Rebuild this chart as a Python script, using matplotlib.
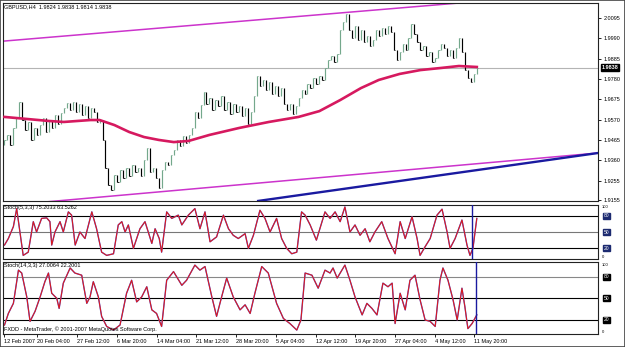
import matplotlib.pyplot as plt
import matplotlib.transforms as mtransforms
from matplotlib.patches import Rectangle

plt.rcParams['font.family'] = ['Liberation Sans', 'DejaVu Sans']

# ---- texts
symbol_line = 'GBPUSD,H4  1.9824 1.9838 1.9814 1.9838'
stoch_fast_label = 'Stoch(5,3,3) 75.2033 63.5262'
stoch_slow_label = 'Stoch(14,3,3) 27.0064 22.2001'
copyright_text = 'FXDD - MetaTrader, \u00a9 2001-2007 MetaQuotes Software Corp.'
bid = 1.9838
bid_text = '1.9838'

# ---- H4 closes (one value per drawn bar)
first_open = 1.9440
closes = [
    1.9465, 1.9490, 1.9439, 1.9527, 1.9578, 1.9661, 1.9568, 1.9516, 1.9558, 1.9465,
    1.9527, 1.9490, 1.9542, 1.9578, 1.9506, 1.9568, 1.9527, 1.9594, 1.9547, 1.9604,
    1.9630, 1.9656, 1.9620, 1.9661, 1.9609, 1.9651, 1.9594, 1.9640, 1.9578, 1.9630,
    1.9609, 1.9558, 1.9568, 1.9465, 1.9320, 1.9232, 1.9207, 1.9284, 1.9248, 1.9310,
    1.9269, 1.9320, 1.9279, 1.9336, 1.9300, 1.9320, 1.9279, 1.9362, 1.9424, 1.9300,
    1.9320, 1.9269, 1.9217, 1.9310, 1.9351, 1.9336, 1.9388, 1.9413, 1.9465, 1.9434,
    1.9485, 1.9449, 1.9490, 1.9527, 1.9609, 1.9578, 1.9646, 1.9713, 1.9651, 1.9682,
    1.9620, 1.9671, 1.9640, 1.9692, 1.9620, 1.9661, 1.9599, 1.9651, 1.9609, 1.9640,
    1.9589, 1.9630, 1.9547, 1.9609, 1.9692, 1.9795, 1.9744, 1.9775, 1.9723, 1.9764,
    1.9702, 1.9744, 1.9692, 1.9733, 1.9651, 1.9620, 1.9651, 1.9599, 1.9640, 1.9682,
    1.9723, 1.9702, 1.9754, 1.9733, 1.9785, 1.9754, 1.9795, 1.9775, 1.9837, 1.9878,
    1.9899, 1.9868, 1.9909, 2.0033, 2.0074, 2.0116, 2.0033, 1.9992, 2.0054, 1.9981,
    2.0033, 1.9971, 2.0002, 1.9950, 1.9981, 2.0033, 2.0002, 2.0043, 2.0012, 2.0054,
    2.0023, 1.9930, 1.9878, 1.9919, 1.9961, 1.9930, 1.9992, 2.0064, 2.0012, 1.9971,
    1.9930, 1.9950, 1.9899, 1.9919, 1.9868, 1.9888, 1.9930, 1.9961, 1.9940, 1.9899,
    1.9930, 1.9888, 1.9940, 1.9992, 1.9919, 1.9826, 1.9785, 1.9764, 1.9806, 1.9838,
]

# moving average (read at a few bars)
ma_idx = [0, 15, 20, 29, 32, 37, 42, 47, 52, 57, 62, 69, 79, 89, 99, 106,
          113, 120, 126, 133, 140, 147, 153, 159]
ma_val = [1.9584, 1.9563, 1.9558, 1.9568, 1.9568, 1.9542, 1.9506, 1.9480,
          1.9465, 1.9454, 1.9460, 1.9491, 1.9527, 1.9558, 1.9584, 1.9614,
          1.9671, 1.9733, 1.9775, 1.9806, 1.9826, 1.9837, 1.9847, 1.9842]

# trend lines: (bar, price) end points
upper_chan_x = [0, 155]
upper_chan_y = [1.9976, 2.0175]
lower_chan_x = [0, 200]
lower_chan_y = [1.9126, 1.9398]
blue_trend_x = [85.4, 200]
blue_trend_y = [1.9150, 1.9398]

price_ticks = [2.0095, 1.9990, 1.9885, 1.9780, 1.9675, 1.9570, 1.9465,
               1.9360, 1.9255, 1.9155]

date_pos = [0, 11.1, 24.5, 37.9, 51.2, 64.6, 78.0, 91.3, 104.7, 118.1,
            131.4, 144.8, 158.2]
date_labels = ['12 Feb 2007', '20 Feb 04:00', '27 Feb 12:00', '6 Mar 20:00',
               '14 Mar 04:00', '21 Mar 12:00', '28 Mar 20:00', '5 Apr 04:00',
               '12 Apr 12:00', '19 Apr 20:00', '27 Apr 04:00', '4 May 12:00',
               '11 May 20:00']

# Stoch(5,3,3)
st1_idx = [0, 1.3, 3.0, 4.1, 6.3, 8.0, 9.7, 10.8, 12.5, 14.2, 15.3, 15.9,
           17.0, 18.7, 19.8, 21.5, 22.6, 23.8, 25.4, 27.1, 29.4, 31.0, 32.7,
           34.4, 36.7, 38.3, 39.5, 40.6, 41.7, 43.4, 45.6, 47.3, 48.4, 49.6,
           50.7, 52.1, 52.9, 54.6, 56.3, 58.5, 59.7, 61.9, 64.1, 65.8, 67.5,
           69.2, 71.4, 73.7, 75.4, 77.0, 78.7, 81.0, 82.1, 83.8, 86.0, 87.7,
           89.4, 91.6, 93.3, 95.0, 96.7, 98.4, 100.0, 101.2, 102.9, 105.0,
           107.9, 109.6, 111.3, 113.0, 114.6, 116.3, 118.0, 119.7, 121.4,
           123.0, 124.7, 127.0, 129.1, 131.5, 133.2, 134.9, 137.2, 138.9,
           139.9, 141.6, 143.3, 145.6, 147.3, 149.0, 150.0, 151.7, 154.0,
           155.7, 156.7, 157.7, 159.0]
st1_val = [26, 38, 60, 93, 7, 13, 69, 50, 75, 76, 69, 26,
           50, 69, 50, 87, 81, 26, 50, 38, 87, 56, 13,
           7, 10, 63, 69, 50, 63, 20, 56, 69, 50, 29,
           56, 38, 13, 87, 75, 81, 63, 81, 93, 56, 87,
           32, 41, 81, 56, 44, 38, 47, 20, 44, 90, 75,
           50, 75, 38, 20, 10, 13, 87, 81, 63, 35,
           87, 75, 87, 69, 96, 50, 63, 44, 56,
           32, 50, 69, 38, 10, 69, 38, 78, 38,
           7, 23, 38, 81, 92, 50, 20, 38, 72,
           26, 7, 20, 75]

# Stoch(14,3,3)
st2_idx = [0, 1.3, 3.0, 4.7, 5.8, 7.5, 8.6, 10.3, 12.0, 13.6, 14.8, 15.9,
           17.6, 18.4, 19.8, 22.1, 23.7, 26.0, 27.7, 28.8, 29.9, 31.6, 32.7,
           34.4, 36.7, 38.9, 41.1, 42.8, 44.5, 46.2, 47.9, 49.6, 51.2, 52.9,
           54.6, 56.9, 59.7, 61.3, 64.1, 65.8, 67.5, 69.8, 71.4, 73.1, 74.8,
           77.0, 79.3, 81.0, 82.7, 84.3, 86.6, 88.8, 91.6, 93.9, 96.1, 98.4,
           99.8, 101.2, 103.5, 105.6, 107.9, 109.6, 110.6, 112.0, 114.6,
           116.3, 118.0, 120.4, 122.0, 123.7, 125.4, 127.4, 129.1, 130.5,
           131.5, 133.2, 134.9, 136.5, 138.2, 139.9, 141.6, 143.3, 145.0,
           146.6, 147.6, 149.3, 151.0, 152.4, 154.0, 155.0, 156.0, 157.4,
           159.0]
st2_val = [13, 29, 43, 89, 85, 52, 18, 32, 52, 73, 85, 57,
           50, 36, 71, 92, 85, 82, 43, 52, 73, 52, 25,
           11, 6, 13, 57, 75, 45, 52, 66, 34, 29, 11,
           75, 87, 68, 75, 96, 89, 94, 52, 25, 52, 78,
           52, 34, 41, 29, 57, 94, 85, 43, 22, 15, 6,
           20, 85, 82, 64, 89, 85, 92, 78, 96,
           75, 52, 27, 43, 36, 27, 71, 66, 71,
           15, 57, 34, 75, 82, 48, 20, 18, 11,
           75, 92, 75, 48, 20, 64, 38, 8, 15,
           27]

st1_vline = 157.4
st2_vline = 158.8

# ---- figure
W, H = 625, 347
fig = plt.figure(figsize=(W / 100, H / 100), dpi=100)
fig.patch.set_facecolor('white')


def panel(top, bottom):
    return fig.add_axes([3 / W, 1 - bottom / H, 595 / W, (bottom - top) / H])


ax = panel(3, 201)
ax1 = panel(204.8, 259.2)
ax2 = panel(262.2, 334.4)

xmax = 199.8
fs = 4.0

# bars
opens = [first_open] + closes[:-1]
for i, (o, c) in enumerate(zip(opens, closes)):
    col = '#74a88c' if c >= o else 'black'
    lo, hi = min(o, c), max(o, c)
    if hi - lo < 0.0012:
        lo, hi = lo - 0.0006, hi + 0.0006
    ax.vlines(i, lo, hi, color=col, lw=0.85)
    ax.hlines(c, i, i + 0.45, color=col, lw=0.6)

ax.axhline(bid, color='#b4b4b4', lw=0.8, zorder=1)
ax.plot(ma_idx, ma_val, color='#d6195f', lw=1.9, zorder=3)
ax.plot(upper_chan_x, upper_chan_y, color='#cc33cc', lw=1.1)
ax.plot(lower_chan_x, lower_chan_y, color='#cc33cc', lw=1.1)
ax.plot(blue_trend_x, blue_trend_y, color='#1a1aa0', lw=1.7)

ax.set_xlim(-0.5, xmax)
ax.set_ylim(1.91497, 2.01725)
ax.set_xticks([])
ax.yaxis.tick_right()
ax.set_yticks(price_ticks)
ax.set_yticklabels(['%.4f' % p for p in price_ticks])
ax.tick_params(axis='y', length=2, width=0.6, pad=2, labelsize=fs)
ax.text(1.006, bid, bid_text, transform=mtransforms.blended_transform_factory(ax.transAxes, ax.transData),
        ha='left', va='center', fontsize=fs, color='white', fontweight='bold',
        bbox=dict(facecolor='black', edgecolor='black', pad=0.6))

# stochastics
for a, xs, ys, vx, lvl_cols, box_col in [
        (ax1, st1_idx, st1_val, st1_vline, ['black', '#777777', 'black'], '#1c2a70'),
        (ax2, st2_idx, st2_val, st2_vline, ['#888888', 'black', 'black'], 'black')]:
    for lvl, lc in zip([80, 50, 20], lvl_cols):
        a.axhline(lvl, color=lc, lw=0.8, zorder=1)
    a.plot(xs, ys, color='#5060e0', lw=1.0, zorder=2)
    a.plot(xs, ys, color='#e01818', lw=0.75, zorder=3)
    a.axvline(vx, color='#1a1aa0', lw=1.0, zorder=4)
    a.set_xlim(-0.5, xmax)
    a.set_ylim(0, 100)
    a.set_yticks([])
    tr = mtransforms.blended_transform_factory(a.transAxes, a.transData)
    a.text(1.006, 99, '100', transform=tr, fontsize=3.0, ha='left', va='top')
    a.text(1.006, 1, '0', transform=tr, fontsize=3.0, ha='left', va='bottom')
    for lvl in [80, 50, 20]:
        a.text(1.01, lvl, str(lvl), transform=tr, fontsize=3.6, color='white',
               ha='left', va='center',
               bbox=dict(facecolor=box_col, edgecolor=box_col, pad=0.4))

ax1.set_xticks([])
ax2.set_xticks(date_pos)
ax2.set_xticklabels(date_labels)
ax2.tick_params(axis='x', length=2, width=0.6, pad=1.5, labelsize=fs)
for t in ax2.get_xticklabels():
    t.set_horizontalalignment('left')

for a in (ax, ax1, ax2):
    for s in a.spines.values():
        s.set_linewidth(0.8)
        s.set_color('#222222')

fig.text(4 / W, 1 - 7 / H, symbol_line, fontsize=fs, va='center', ha='left')
fig.text(4 / W, 1 - 208 / H, stoch_fast_label, fontsize=fs, va='center', ha='left')
fig.text(4 / W, 1 - 266 / H, stoch_slow_label, fontsize=fs, va='center', ha='left')
fig.text(4 / W, 1 - 329 / H, copyright_text, fontsize=fs, va='center', ha='left')

fig.patches.append(Rectangle((0, 0), 1, 1, transform=fig.transFigure, fill=False,
                             edgecolor='#444444', lw=1.2))

fig.savefig('out.png', dpi=100)
